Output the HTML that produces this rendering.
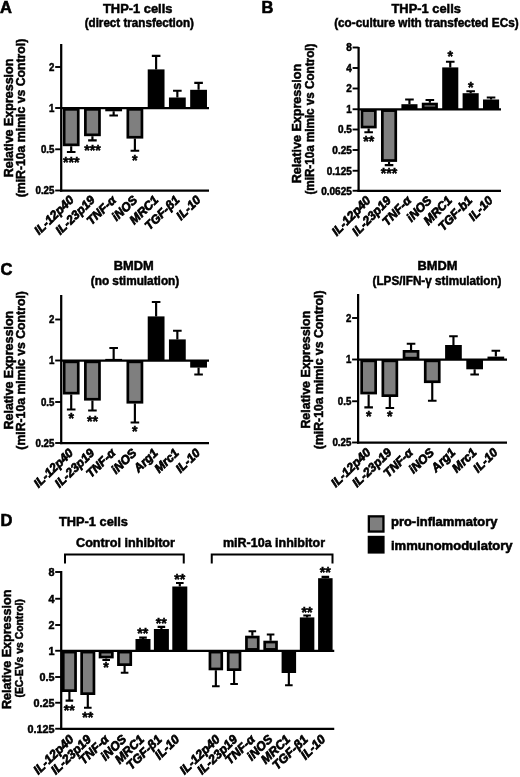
<!DOCTYPE html>
<html><head><meta charset="utf-8"><title>Figure</title>
<style>html,body{margin:0;padding:0;background:#fff}svg{display:block;filter:blur(0.35px)}text{font-family:"Liberation Sans",sans-serif;fill:#000;stroke:#000;stroke-width:0.5px}.xl{stroke-width:0.7px}.pl{stroke-width:0.6px}</style>
</head><body>
<svg width="520" height="777" viewBox="0 0 520 777">
<rect width="520" height="777" fill="#fff"/>
<text x="0" y="13.2" font-size="16.5" text-anchor="start" font-weight="bold" font-style="normal" class="pl">A</text>
<text x="261.5" y="12.8" font-size="16.5" text-anchor="start" font-weight="bold" font-style="normal" class="pl">B</text>
<text x="0.5" y="275.3" font-size="16.5" text-anchor="start" font-weight="bold" font-style="normal" class="pl">C</text>
<text x="0.5" y="526.3" font-size="16.5" text-anchor="start" font-weight="bold" font-style="normal" class="pl">D</text>
<text x="137.7" y="13.0" font-size="12.8" text-anchor="middle" font-weight="bold" font-style="normal" textLength="69.4" lengthAdjust="spacingAndGlyphs" >THP-1 cells</text>
<text x="139.3" y="27.0" font-size="12.2" text-anchor="middle" font-weight="bold" font-style="normal" textLength="109.3" lengthAdjust="spacingAndGlyphs" >(direct transfection)</text>
<text transform="translate(12.5,118) rotate(-90)" font-size="12.5" text-anchor="middle" font-weight="bold" textLength="118.6" lengthAdjust="spacingAndGlyphs">Relative Expression</text>
<text transform="translate(25.0,118) rotate(-90)" font-size="12.3" text-anchor="middle" font-weight="bold" textLength="158.7" lengthAdjust="spacingAndGlyphs">(miR-10a mimic vs Control)</text>
<path d="M71.20 146.20V152.00M66.90 152.00H75.50" stroke="#000" stroke-width="2.15" fill="none"/>
<rect x="64.15" y="109.35" width="14.10" height="35.50" fill="#7f7f7f" stroke="#000" stroke-width="2.7"/>
<text x="71.20" y="167.01" font-size="14.2" text-anchor="middle" font-weight="bold" font-style="normal" >***</text>
<path d="M92.43 136.20V140.30M88.13 140.30H96.73" stroke="#000" stroke-width="2.15" fill="none"/>
<rect x="85.38" y="109.35" width="14.10" height="25.50" fill="#7f7f7f" stroke="#000" stroke-width="2.7"/>
<text x="92.43" y="155.11" font-size="14.2" text-anchor="middle" font-weight="bold" font-style="normal" >***</text>
<path d="M113.66 111.30V115.50M109.36 115.50H117.96" stroke="#000" stroke-width="2.15" fill="none"/>
<rect x="106.61" y="109.35" width="14.10" height="0.60" fill="#7f7f7f" stroke="#000" stroke-width="2.7"/>
<path d="M134.89 138.60V150.75M130.59 150.75H139.19" stroke="#000" stroke-width="2.15" fill="none"/>
<rect x="127.84" y="109.35" width="14.10" height="27.90" fill="#7f7f7f" stroke="#000" stroke-width="2.7"/>
<text x="134.89" y="164.81" font-size="14.2" text-anchor="middle" font-weight="bold" font-style="normal" >*</text>
<path d="M156.12 69.40V55.80M151.82 55.80H160.42" stroke="#000" stroke-width="2.15" fill="none"/>
<rect x="149.07" y="70.75" width="14.10" height="35.90" fill="#000" stroke="#000" stroke-width="2.7"/>
<path d="M177.35 97.50V90.70M173.05 90.70H181.65" stroke="#000" stroke-width="2.15" fill="none"/>
<rect x="170.30" y="98.85" width="14.10" height="7.80" fill="#000" stroke="#000" stroke-width="2.7"/>
<path d="M198.58 89.80V82.80M194.28 82.80H202.88" stroke="#000" stroke-width="2.15" fill="none"/>
<rect x="191.53" y="91.15" width="14.10" height="15.50" fill="#000" stroke="#000" stroke-width="2.7"/>
<path d="M61.2 44V191.625" stroke="#000" stroke-width="2.25" fill="none"/>
<path d="M60.075 190.5H209" stroke="#000" stroke-width="2.25" fill="none"/>
<path d="M61.2 108H209" stroke="#000" stroke-width="2.25" fill="none"/>
<path d="M55.2 67H61.2" stroke="#000" stroke-width="1.9" fill="none"/>
<text x="54.40" y="70.80" font-size="10.5" text-anchor="end" font-weight="bold" font-style="normal" textLength="5.39" lengthAdjust="spacingAndGlyphs" >2</text>
<path d="M55.2 108H61.2" stroke="#000" stroke-width="1.9" fill="none"/>
<text x="54.40" y="111.80" font-size="10.5" text-anchor="end" font-weight="bold" font-style="normal" textLength="5.39" lengthAdjust="spacingAndGlyphs" >1</text>
<path d="M55.2 149.3H61.2" stroke="#000" stroke-width="1.9" fill="none"/>
<text x="54.40" y="153.10" font-size="10.5" text-anchor="end" font-weight="bold" font-style="normal" textLength="13.48" lengthAdjust="spacingAndGlyphs" >0.5</text>
<path d="M55.2 190.5H61.2" stroke="#000" stroke-width="1.9" fill="none"/>
<text x="54.40" y="194.30" font-size="10.5" text-anchor="end" font-weight="bold" font-style="normal" textLength="18.88" lengthAdjust="spacingAndGlyphs" >0.25</text>
<text transform="translate(74.60,200.90) rotate(-44)" font-size="12.2" text-anchor="end" font-weight="bold" font-style="italic" class="xl">IL-12p40</text>
<text transform="translate(95.75,200.90) rotate(-44)" font-size="12.2" text-anchor="end" font-weight="bold" font-style="italic" class="xl">IL-23p19</text>
<text transform="translate(116.90,200.90) rotate(-44)" font-size="12.2" text-anchor="end" font-weight="bold" font-style="italic" class="xl">TNF-α</text>
<text transform="translate(138.05,200.90) rotate(-44)" font-size="12.2" text-anchor="end" font-weight="bold" font-style="italic" class="xl">iNOS</text>
<text transform="translate(159.20,200.90) rotate(-44)" font-size="12.2" text-anchor="end" font-weight="bold" font-style="italic" class="xl">MRC1</text>
<text transform="translate(180.35,200.90) rotate(-44)" font-size="12.2" text-anchor="end" font-weight="bold" font-style="italic" class="xl">TGF-β1</text>
<text transform="translate(201.50,200.90) rotate(-44)" font-size="12.2" text-anchor="end" font-weight="bold" font-style="italic" class="xl">IL-10</text>
<text x="426.2" y="13.0" font-size="12.8" text-anchor="middle" font-weight="bold" font-style="normal" textLength="69.4" lengthAdjust="spacingAndGlyphs" >THP-1 cells</text>
<text x="426.4" y="27.1" font-size="12.2" text-anchor="middle" font-weight="bold" font-style="normal" textLength="184.5" lengthAdjust="spacingAndGlyphs" >(co-culture with transfected ECs)</text>
<text transform="translate(301.4,123.6) rotate(-90)" font-size="12.5" text-anchor="middle" font-weight="bold" textLength="119.3" lengthAdjust="spacingAndGlyphs">Relative Expression</text>
<text transform="translate(314.1,119.1) rotate(-90)" font-size="12.3" text-anchor="middle" font-weight="bold" textLength="151" lengthAdjust="spacingAndGlyphs">(miR-10a mimic vs Control)</text>
<path d="M368.65 128.40V132.20M364.35 132.20H372.95" stroke="#000" stroke-width="2.15" fill="none"/>
<rect x="361.95" y="110.60" width="13.40" height="16.45" fill="#7f7f7f" stroke="#000" stroke-width="2.7"/>
<text x="368.65" y="145.81" font-size="14.2" text-anchor="middle" font-weight="bold" font-style="normal" >**</text>
<path d="M389.05 161.90V165.10M384.75 165.10H393.35" stroke="#000" stroke-width="2.15" fill="none"/>
<rect x="382.35" y="110.60" width="13.40" height="49.95" fill="#7f7f7f" stroke="#000" stroke-width="2.7"/>
<text x="389.05" y="178.31" font-size="14.2" text-anchor="middle" font-weight="bold" font-style="normal" >***</text>
<path d="M409.45 104.20V99.50M405.15 99.50H413.75" stroke="#000" stroke-width="2.15" fill="none"/>
<rect x="402.75" y="105.55" width="13.40" height="2.35" fill="#7f7f7f" stroke="#000" stroke-width="2.7"/>
<path d="M429.85 102.70V100.00M425.55 100.00H434.15" stroke="#000" stroke-width="2.15" fill="none"/>
<rect x="423.15" y="104.05" width="13.40" height="3.85" fill="#7f7f7f" stroke="#000" stroke-width="2.7"/>
<path d="M450.25 67.40V61.75M445.95 61.75H454.55" stroke="#000" stroke-width="2.15" fill="none"/>
<rect x="443.55" y="68.75" width="13.40" height="39.15" fill="#000" stroke="#000" stroke-width="2.7"/>
<text x="450.25" y="61.31" font-size="14.2" text-anchor="middle" font-weight="bold" font-style="normal" >*</text>
<path d="M470.65 93.20V91.25M466.35 91.25H474.95" stroke="#000" stroke-width="2.15" fill="none"/>
<rect x="463.95" y="94.55" width="13.40" height="13.35" fill="#000" stroke="#000" stroke-width="2.7"/>
<text x="470.65" y="92.31" font-size="14.2" text-anchor="middle" font-weight="bold" font-style="normal" >*</text>
<path d="M491.05 99.50V97.50M486.75 97.50H495.35" stroke="#000" stroke-width="2.15" fill="none"/>
<rect x="484.35" y="100.85" width="13.40" height="7.05" fill="#000" stroke="#000" stroke-width="2.7"/>
<path d="M358.6 47V191.875" stroke="#000" stroke-width="2.25" fill="none"/>
<path d="M357.475 190.75H501" stroke="#000" stroke-width="2.25" fill="none"/>
<path d="M358.6 109.25H501" stroke="#000" stroke-width="2.25" fill="none"/>
<path d="M352.6 47.5H358.6" stroke="#000" stroke-width="1.9" fill="none"/>
<text x="351.80" y="51.30" font-size="10.5" text-anchor="end" font-weight="bold" font-style="normal" textLength="5.56" lengthAdjust="spacingAndGlyphs" >8</text>
<path d="M352.6 68H358.6" stroke="#000" stroke-width="1.9" fill="none"/>
<text x="351.80" y="71.80" font-size="10.5" text-anchor="end" font-weight="bold" font-style="normal" textLength="5.56" lengthAdjust="spacingAndGlyphs" >4</text>
<path d="M352.6 88.5H358.6" stroke="#000" stroke-width="1.9" fill="none"/>
<text x="351.80" y="92.30" font-size="10.5" text-anchor="end" font-weight="bold" font-style="normal" textLength="5.56" lengthAdjust="spacingAndGlyphs" >2</text>
<path d="M352.6 109.25H358.6" stroke="#000" stroke-width="1.9" fill="none"/>
<text x="351.80" y="113.05" font-size="10.5" text-anchor="end" font-weight="bold" font-style="normal" textLength="5.56" lengthAdjust="spacingAndGlyphs" >1</text>
<path d="M352.6 129.5H358.6" stroke="#000" stroke-width="1.9" fill="none"/>
<text x="351.80" y="133.30" font-size="10.5" text-anchor="end" font-weight="bold" font-style="normal" textLength="13.9" lengthAdjust="spacingAndGlyphs" >0.5</text>
<path d="M352.6 150H358.6" stroke="#000" stroke-width="1.9" fill="none"/>
<text x="351.80" y="153.80" font-size="10.5" text-anchor="end" font-weight="bold" font-style="normal" textLength="19.46" lengthAdjust="spacingAndGlyphs" >0.25</text>
<path d="M352.6 170.75H358.6" stroke="#000" stroke-width="1.9" fill="none"/>
<text x="351.80" y="174.55" font-size="10.5" text-anchor="end" font-weight="bold" font-style="normal" textLength="25.02" lengthAdjust="spacingAndGlyphs" >0.125</text>
<path d="M352.6 190.75H358.6" stroke="#000" stroke-width="1.9" fill="none"/>
<text x="351.80" y="194.55" font-size="10.5" text-anchor="end" font-weight="bold" font-style="normal" textLength="30.58" lengthAdjust="spacingAndGlyphs" >0.0625</text>
<text transform="translate(371.35,201.20) rotate(-45.5)" font-size="12.2" text-anchor="end" font-weight="bold" font-style="italic" class="xl">IL-12p40</text>
<text transform="translate(391.70,201.20) rotate(-45.5)" font-size="12.2" text-anchor="end" font-weight="bold" font-style="italic" class="xl">IL-23p19</text>
<text transform="translate(412.05,201.20) rotate(-45.5)" font-size="12.2" text-anchor="end" font-weight="bold" font-style="italic" class="xl">TNF-α</text>
<text transform="translate(432.40,201.20) rotate(-45.5)" font-size="12.2" text-anchor="end" font-weight="bold" font-style="italic" class="xl">iNOS</text>
<text transform="translate(452.75,201.20) rotate(-45.5)" font-size="12.2" text-anchor="end" font-weight="bold" font-style="italic" class="xl">MRC1</text>
<text transform="translate(473.10,201.20) rotate(-45.5)" font-size="12.2" text-anchor="end" font-weight="bold" font-style="italic" class="xl">TGF-b1</text>
<text transform="translate(493.45,201.20) rotate(-45.5)" font-size="12.2" text-anchor="end" font-weight="bold" font-style="italic" class="xl">IL-10</text>
<text x="133.75" y="270.2" font-size="12.8" text-anchor="middle" font-weight="bold" font-style="normal" textLength="40" lengthAdjust="spacingAndGlyphs" >BMDM</text>
<text x="135" y="285" font-size="12" text-anchor="middle" font-weight="bold" font-style="normal" textLength="88.5" lengthAdjust="spacingAndGlyphs" >(no stimulation)</text>
<text transform="translate(12.5,370.2) rotate(-90)" font-size="12.5" text-anchor="middle" font-weight="bold" textLength="118.7" lengthAdjust="spacingAndGlyphs">Relative Expression</text>
<text transform="translate(25.0,370.4) rotate(-90)" font-size="12.3" text-anchor="middle" font-weight="bold" textLength="158.6" lengthAdjust="spacingAndGlyphs">(miR-10a mimic vs Control)</text>
<path d="M71.20 394.50V409.50M66.90 409.50H75.50" stroke="#000" stroke-width="2.15" fill="none"/>
<rect x="64.15" y="361.85" width="14.10" height="31.30" fill="#7f7f7f" stroke="#000" stroke-width="2.7"/>
<text x="71.20" y="422.81" font-size="14.2" text-anchor="middle" font-weight="bold" font-style="normal" >*</text>
<path d="M92.43 400.60V410.50M88.13 410.50H96.73" stroke="#000" stroke-width="2.15" fill="none"/>
<rect x="85.38" y="361.85" width="14.10" height="37.40" fill="#7f7f7f" stroke="#000" stroke-width="2.7"/>
<text x="92.43" y="426.41" font-size="14.2" text-anchor="middle" font-weight="bold" font-style="normal" >**</text>
<path d="M113.66 358.90V348.00M109.36 348.00H117.96" stroke="#000" stroke-width="2.15" fill="none"/>
<rect x="105.26" y="358.90" width="16.80" height="1.60" fill="#000"/>
<path d="M134.89 403.60V422.50M130.59 422.50H139.19" stroke="#000" stroke-width="2.15" fill="none"/>
<rect x="127.84" y="361.85" width="14.10" height="40.40" fill="#7f7f7f" stroke="#000" stroke-width="2.7"/>
<text x="134.89" y="435.81" font-size="14.2" text-anchor="middle" font-weight="bold" font-style="normal" >*</text>
<path d="M156.12 316.40V302.00M151.82 302.00H160.42" stroke="#000" stroke-width="2.15" fill="none"/>
<rect x="149.07" y="317.75" width="14.10" height="41.40" fill="#000" stroke="#000" stroke-width="2.7"/>
<path d="M177.35 339.40V330.75M173.05 330.75H181.65" stroke="#000" stroke-width="2.15" fill="none"/>
<rect x="170.30" y="340.75" width="14.10" height="18.40" fill="#000" stroke="#000" stroke-width="2.7"/>
<path d="M198.58 367.60V374.50M194.28 374.50H202.88" stroke="#000" stroke-width="2.15" fill="none"/>
<rect x="191.53" y="361.85" width="14.10" height="4.40" fill="#000" stroke="#000" stroke-width="2.7"/>
<path d="M61.2 295V444.125" stroke="#000" stroke-width="2.25" fill="none"/>
<path d="M60.075 443H209" stroke="#000" stroke-width="2.25" fill="none"/>
<path d="M61.2 360.5H209" stroke="#000" stroke-width="2.25" fill="none"/>
<path d="M55.2 319.5H61.2" stroke="#000" stroke-width="1.9" fill="none"/>
<text x="54.40" y="323.30" font-size="10.5" text-anchor="end" font-weight="bold" font-style="normal" textLength="5.39" lengthAdjust="spacingAndGlyphs" >2</text>
<path d="M55.2 360.5H61.2" stroke="#000" stroke-width="1.9" fill="none"/>
<text x="54.40" y="364.30" font-size="10.5" text-anchor="end" font-weight="bold" font-style="normal" textLength="5.39" lengthAdjust="spacingAndGlyphs" >1</text>
<path d="M55.2 402H61.2" stroke="#000" stroke-width="1.9" fill="none"/>
<text x="54.40" y="405.80" font-size="10.5" text-anchor="end" font-weight="bold" font-style="normal" textLength="13.48" lengthAdjust="spacingAndGlyphs" >0.5</text>
<path d="M55.2 443H61.2" stroke="#000" stroke-width="1.9" fill="none"/>
<text x="54.40" y="446.80" font-size="10.5" text-anchor="end" font-weight="bold" font-style="normal" textLength="18.88" lengthAdjust="spacingAndGlyphs" >0.25</text>
<text transform="translate(74.00,453.80) rotate(-44)" font-size="12.2" text-anchor="end" font-weight="bold" font-style="italic" class="xl">IL-12p40</text>
<text transform="translate(95.15,453.80) rotate(-44)" font-size="12.2" text-anchor="end" font-weight="bold" font-style="italic" class="xl">IL-23p19</text>
<text transform="translate(116.30,453.80) rotate(-44)" font-size="12.2" text-anchor="end" font-weight="bold" font-style="italic" class="xl">TNF-α</text>
<text transform="translate(137.45,453.80) rotate(-44)" font-size="12.2" text-anchor="end" font-weight="bold" font-style="italic" class="xl">iNOS</text>
<text transform="translate(158.60,453.80) rotate(-44)" font-size="12.2" text-anchor="end" font-weight="bold" font-style="italic" class="xl">Arg1</text>
<text transform="translate(179.75,453.80) rotate(-44)" font-size="12.2" text-anchor="end" font-weight="bold" font-style="italic" class="xl">Mrc1</text>
<text transform="translate(200.90,453.80) rotate(-44)" font-size="12.2" text-anchor="end" font-weight="bold" font-style="italic" class="xl">IL-10</text>
<text x="437.5" y="270.2" font-size="12.8" text-anchor="middle" font-weight="bold" font-style="normal" textLength="40" lengthAdjust="spacingAndGlyphs" >BMDM</text>
<text x="437" y="285" font-size="12.2" text-anchor="middle" font-weight="bold" font-style="normal" textLength="129" lengthAdjust="spacingAndGlyphs" >(LPS/IFN-γ stimulation)</text>
<text transform="translate(310.2,369.7) rotate(-90)" font-size="12.5" text-anchor="middle" font-weight="bold" textLength="117.8" lengthAdjust="spacingAndGlyphs">Relative Expression</text>
<text transform="translate(322.5,369.8) rotate(-90)" font-size="12.3" text-anchor="middle" font-weight="bold" textLength="158.7" lengthAdjust="spacingAndGlyphs">(miR-10a mimic vs Control)</text>
<path d="M368.65 394.40V407.40M364.35 407.40H372.95" stroke="#000" stroke-width="2.15" fill="none"/>
<rect x="361.65" y="360.85" width="14.00" height="32.20" fill="#7f7f7f" stroke="#000" stroke-width="2.7"/>
<text x="368.65" y="420.71" font-size="14.2" text-anchor="middle" font-weight="bold" font-style="normal" >*</text>
<path d="M389.85 397.00V408.00M385.55 408.00H394.15" stroke="#000" stroke-width="2.15" fill="none"/>
<rect x="382.85" y="360.85" width="14.00" height="34.80" fill="#7f7f7f" stroke="#000" stroke-width="2.7"/>
<text x="389.85" y="421.21" font-size="14.2" text-anchor="middle" font-weight="bold" font-style="normal" >*</text>
<path d="M411.05 350.00V343.75M406.75 343.75H415.35" stroke="#000" stroke-width="2.15" fill="none"/>
<rect x="404.05" y="351.35" width="14.00" height="6.80" fill="#7f7f7f" stroke="#000" stroke-width="2.7"/>
<path d="M432.25 383.10V400.75M427.95 400.75H436.55" stroke="#000" stroke-width="2.15" fill="none"/>
<rect x="425.25" y="360.85" width="14.00" height="20.90" fill="#7f7f7f" stroke="#000" stroke-width="2.7"/>
<path d="M453.45 345.00V336.25M449.15 336.25H457.75" stroke="#000" stroke-width="2.15" fill="none"/>
<rect x="446.45" y="346.35" width="14.00" height="11.80" fill="#000" stroke="#000" stroke-width="2.7"/>
<path d="M474.65 369.30V374.50M470.35 374.50H478.95" stroke="#000" stroke-width="2.15" fill="none"/>
<rect x="467.65" y="360.85" width="14.00" height="7.10" fill="#000" stroke="#000" stroke-width="2.7"/>
<path d="M495.85 356.60V350.75M491.55 350.75H500.15" stroke="#000" stroke-width="2.15" fill="none"/>
<rect x="487.50" y="356.60" width="16.70" height="2.90" fill="#000"/>
<path d="M358.1 294V443.625" stroke="#000" stroke-width="2.25" fill="none"/>
<path d="M356.975 442.5H507" stroke="#000" stroke-width="2.25" fill="none"/>
<path d="M358.1 359.5H507" stroke="#000" stroke-width="2.25" fill="none"/>
<path d="M352.1 318H358.1" stroke="#000" stroke-width="1.9" fill="none"/>
<text x="351.30" y="321.80" font-size="10.5" text-anchor="end" font-weight="bold" font-style="normal" textLength="5.39" lengthAdjust="spacingAndGlyphs" >2</text>
<path d="M352.1 359.5H358.1" stroke="#000" stroke-width="1.9" fill="none"/>
<text x="351.30" y="363.30" font-size="10.5" text-anchor="end" font-weight="bold" font-style="normal" textLength="5.39" lengthAdjust="spacingAndGlyphs" >1</text>
<path d="M352.1 401.25H358.1" stroke="#000" stroke-width="1.9" fill="none"/>
<text x="351.30" y="405.05" font-size="10.5" text-anchor="end" font-weight="bold" font-style="normal" textLength="13.48" lengthAdjust="spacingAndGlyphs" >0.5</text>
<path d="M352.1 442.5H358.1" stroke="#000" stroke-width="1.9" fill="none"/>
<text x="351.30" y="446.30" font-size="10.5" text-anchor="end" font-weight="bold" font-style="normal" textLength="18.88" lengthAdjust="spacingAndGlyphs" >0.25</text>
<text transform="translate(371.30,453.40) rotate(-44)" font-size="12.2" text-anchor="end" font-weight="bold" font-style="italic" class="xl">IL-12p40</text>
<text transform="translate(392.50,453.40) rotate(-44)" font-size="12.2" text-anchor="end" font-weight="bold" font-style="italic" class="xl">IL-23p19</text>
<text transform="translate(413.70,453.40) rotate(-44)" font-size="12.2" text-anchor="end" font-weight="bold" font-style="italic" class="xl">TNF-α</text>
<text transform="translate(434.90,453.40) rotate(-44)" font-size="12.2" text-anchor="end" font-weight="bold" font-style="italic" class="xl">iNOS</text>
<text transform="translate(456.10,453.40) rotate(-44)" font-size="12.2" text-anchor="end" font-weight="bold" font-style="italic" class="xl">Arg1</text>
<text transform="translate(477.30,453.40) rotate(-44)" font-size="12.2" text-anchor="end" font-weight="bold" font-style="italic" class="xl">Mrc1</text>
<text transform="translate(498.50,453.40) rotate(-44)" font-size="12.2" text-anchor="end" font-weight="bold" font-style="italic" class="xl">IL-10</text>
<text x="59" y="525.5" font-size="12.8" text-anchor="start" font-weight="bold" font-style="normal" textLength="69" lengthAdjust="spacingAndGlyphs" >THP-1 cells</text>
<text x="125.5" y="547" font-size="12.6" text-anchor="middle" font-weight="bold" font-style="normal" textLength="99" lengthAdjust="spacingAndGlyphs" >Control inhibitor</text>
<text x="274" y="547" font-size="12.5" text-anchor="middle" font-weight="bold" font-style="normal" textLength="102" lengthAdjust="spacingAndGlyphs" >miR-10a inhibitor</text>
<path d="M65 563.5V554.5H183.75V563.5M211.75 563.5V554.5H332.5V563.5" stroke="#000" stroke-width="2" fill="none"/>
<text transform="translate(10.6,649.3) rotate(-90)" font-size="12.5" text-anchor="middle" font-weight="bold" textLength="119.5" lengthAdjust="spacingAndGlyphs">Relative Expression</text>
<text transform="translate(22.8,648.3) rotate(-90)" font-size="10.5" text-anchor="middle" font-weight="bold" textLength="98.5" lengthAdjust="spacingAndGlyphs">(EC-EVs vs Control)</text>
<path d="M69.40 692.00V700.60M65.60 700.60H73.20" stroke="#000" stroke-width="2.15" fill="none"/>
<rect x="63.25" y="652.10" width="12.30" height="38.55" fill="#7f7f7f" stroke="#000" stroke-width="2.7"/>
<text x="69.25" y="714.61" font-size="14.2" text-anchor="middle" font-weight="bold" font-style="normal" >**</text>
<path d="M87.80 695.00V707.75M84.00 707.75H91.60" stroke="#000" stroke-width="2.15" fill="none"/>
<rect x="81.65" y="652.10" width="12.30" height="41.55" fill="#7f7f7f" stroke="#000" stroke-width="2.7"/>
<text x="87.65" y="722.01" font-size="14.2" text-anchor="middle" font-weight="bold" font-style="normal" >**</text>
<path d="M106.20 658.40V660.00M102.40 660.00H110.00" stroke="#000" stroke-width="2.15" fill="none"/>
<rect x="100.05" y="652.10" width="12.30" height="4.95" fill="#7f7f7f" stroke="#000" stroke-width="2.7"/>
<text x="106.05" y="672.01" font-size="14.2" text-anchor="middle" font-weight="bold" font-style="normal" >*</text>
<path d="M124.60 666.00V672.75M120.80 672.75H128.40" stroke="#000" stroke-width="2.15" fill="none"/>
<rect x="118.45" y="652.10" width="12.30" height="12.55" fill="#7f7f7f" stroke="#000" stroke-width="2.7"/>
<path d="M143.00 639.00V637.60M139.20 637.60H146.80" stroke="#000" stroke-width="2.15" fill="none"/>
<rect x="136.85" y="640.35" width="12.30" height="9.05" fill="#000" stroke="#000" stroke-width="2.7"/>
<text x="142.85" y="638.31" font-size="14.2" text-anchor="middle" font-weight="bold" font-style="normal" >**</text>
<path d="M161.40 629.00V626.80M157.60 626.80H165.20" stroke="#000" stroke-width="2.15" fill="none"/>
<rect x="155.25" y="630.35" width="12.30" height="19.05" fill="#000" stroke="#000" stroke-width="2.7"/>
<text x="161.25" y="627.81" font-size="14.2" text-anchor="middle" font-weight="bold" font-style="normal" >**</text>
<path d="M179.80 586.50V583.00M176.00 583.00H183.60" stroke="#000" stroke-width="2.15" fill="none"/>
<rect x="173.65" y="587.85" width="12.30" height="61.55" fill="#000" stroke="#000" stroke-width="2.7"/>
<text x="179.65" y="583.81" font-size="14.2" text-anchor="middle" font-weight="bold" font-style="normal" >**</text>
<path d="M215.85 670.30V686.25M212.05 686.25H219.65" stroke="#000" stroke-width="2.15" fill="none"/>
<rect x="209.95" y="652.10" width="11.80" height="16.85" fill="#7f7f7f" stroke="#000" stroke-width="2.7"/>
<path d="M234.10 671.00V684.00M230.30 684.00H237.90" stroke="#000" stroke-width="2.15" fill="none"/>
<rect x="228.20" y="652.10" width="11.80" height="17.55" fill="#7f7f7f" stroke="#000" stroke-width="2.7"/>
<path d="M252.35 635.70V631.25M248.55 631.25H256.15" stroke="#000" stroke-width="2.15" fill="none"/>
<rect x="246.45" y="637.05" width="11.80" height="12.35" fill="#7f7f7f" stroke="#000" stroke-width="2.7"/>
<path d="M270.60 640.70V634.50M266.80 634.50H274.40" stroke="#000" stroke-width="2.15" fill="none"/>
<rect x="264.70" y="642.05" width="11.80" height="7.35" fill="#7f7f7f" stroke="#000" stroke-width="2.7"/>
<path d="M288.85 673.00V685.25M285.05 685.25H292.65" stroke="#000" stroke-width="2.15" fill="none"/>
<rect x="282.95" y="652.10" width="11.80" height="19.55" fill="#000" stroke="#000" stroke-width="2.7"/>
<path d="M307.10 617.40V615.50M303.30 615.50H310.90" stroke="#000" stroke-width="2.15" fill="none"/>
<rect x="301.20" y="618.75" width="11.80" height="30.65" fill="#000" stroke="#000" stroke-width="2.7"/>
<text x="307.10" y="616.81" font-size="14.2" text-anchor="middle" font-weight="bold" font-style="normal" >**</text>
<path d="M325.35 578.20V576.80M321.55 576.80H329.15" stroke="#000" stroke-width="2.15" fill="none"/>
<rect x="319.45" y="579.55" width="11.80" height="69.85" fill="#000" stroke="#000" stroke-width="2.7"/>
<text x="325.35" y="576.81" font-size="14.2" text-anchor="middle" font-weight="bold" font-style="normal" >**</text>
<path d="M61.2 571V729.875" stroke="#000" stroke-width="2.25" fill="none"/>
<path d="M60.075 728.75H334.25" stroke="#000" stroke-width="2.25" fill="none"/>
<path d="M61.2 650.75H334.25" stroke="#000" stroke-width="2.25" fill="none"/>
<path d="M55.2 572H61.2" stroke="#000" stroke-width="1.9" fill="none"/>
<text x="54.40" y="575.80" font-size="10.8" text-anchor="end" font-weight="bold" font-style="normal" textLength="6.01" lengthAdjust="spacingAndGlyphs" >8</text>
<path d="M55.2 598.75H61.2" stroke="#000" stroke-width="1.9" fill="none"/>
<text x="54.40" y="602.55" font-size="10.8" text-anchor="end" font-weight="bold" font-style="normal" textLength="6.01" lengthAdjust="spacingAndGlyphs" >4</text>
<path d="M55.2 625H61.2" stroke="#000" stroke-width="1.9" fill="none"/>
<text x="54.40" y="628.80" font-size="10.8" text-anchor="end" font-weight="bold" font-style="normal" textLength="6.01" lengthAdjust="spacingAndGlyphs" >2</text>
<path d="M55.2 650.75H61.2" stroke="#000" stroke-width="1.9" fill="none"/>
<text x="54.40" y="654.55" font-size="10.8" text-anchor="end" font-weight="bold" font-style="normal" textLength="6.01" lengthAdjust="spacingAndGlyphs" >1</text>
<path d="M55.2 677H61.2" stroke="#000" stroke-width="1.9" fill="none"/>
<text x="54.40" y="680.80" font-size="10.8" text-anchor="end" font-weight="bold" font-style="normal" textLength="15.01" lengthAdjust="spacingAndGlyphs" >0.5</text>
<path d="M55.2 702.75H61.2" stroke="#000" stroke-width="1.9" fill="none"/>
<text x="54.40" y="706.55" font-size="10.8" text-anchor="end" font-weight="bold" font-style="normal" textLength="21.02" lengthAdjust="spacingAndGlyphs" >0.25</text>
<path d="M55.2 728.75H61.2" stroke="#000" stroke-width="1.9" fill="none"/>
<text x="54.40" y="732.55" font-size="10.8" text-anchor="end" font-weight="bold" font-style="normal" textLength="27.02" lengthAdjust="spacingAndGlyphs" >0.125</text>
<text transform="translate(74.35,740.10) rotate(-44)" font-size="12.4" text-anchor="end" font-weight="bold" font-style="italic" class="xl">IL-12p40</text>
<text transform="translate(92.00,740.10) rotate(-44)" font-size="12.4" text-anchor="end" font-weight="bold" font-style="italic" class="xl">IL-23p19</text>
<text transform="translate(109.65,740.10) rotate(-44)" font-size="12.4" text-anchor="end" font-weight="bold" font-style="italic" class="xl">TNF-α</text>
<text transform="translate(127.30,740.10) rotate(-44)" font-size="12.4" text-anchor="end" font-weight="bold" font-style="italic" class="xl">iNOS</text>
<text transform="translate(144.95,740.10) rotate(-44)" font-size="12.4" text-anchor="end" font-weight="bold" font-style="italic" class="xl">MRC1</text>
<text transform="translate(162.60,740.10) rotate(-44)" font-size="12.4" text-anchor="end" font-weight="bold" font-style="italic" class="xl">TGF-β1</text>
<text transform="translate(180.25,740.10) rotate(-44)" font-size="12.4" text-anchor="end" font-weight="bold" font-style="italic" class="xl">IL-10</text>
<text transform="translate(220.65,740.10) rotate(-44)" font-size="12.4" text-anchor="end" font-weight="bold" font-style="italic" class="xl">IL-12p40</text>
<text transform="translate(238.25,740.10) rotate(-44)" font-size="12.4" text-anchor="end" font-weight="bold" font-style="italic" class="xl">IL-23p19</text>
<text transform="translate(255.85,740.10) rotate(-44)" font-size="12.4" text-anchor="end" font-weight="bold" font-style="italic" class="xl">TNF-α</text>
<text transform="translate(273.45,740.10) rotate(-44)" font-size="12.4" text-anchor="end" font-weight="bold" font-style="italic" class="xl">iNOS</text>
<text transform="translate(291.05,740.10) rotate(-44)" font-size="12.4" text-anchor="end" font-weight="bold" font-style="italic" class="xl">MRC1</text>
<text transform="translate(308.65,740.10) rotate(-44)" font-size="12.4" text-anchor="end" font-weight="bold" font-style="italic" class="xl">TGF-β1</text>
<text transform="translate(326.25,740.10) rotate(-44)" font-size="12.4" text-anchor="end" font-weight="bold" font-style="italic" class="xl">IL-10</text>
<rect x="368.85" y="516.35" width="14.6" height="15.2" fill="#7f7f7f" stroke="#000" stroke-width="2.3"/>
<rect x="367.7" y="535.8" width="16.9" height="17.8" fill="#000"/>
<text x="391" y="526.4" font-size="13.4" text-anchor="start" font-weight="bold" font-style="normal" textLength="106.5" lengthAdjust="spacingAndGlyphs" class="pl">pro-inflammatory</text>
<text x="391" y="550.3" font-size="13.4" text-anchor="start" font-weight="bold" font-style="normal" textLength="121.5" lengthAdjust="spacingAndGlyphs" class="pl">immunomodulatory</text>
</svg>
</body></html>
